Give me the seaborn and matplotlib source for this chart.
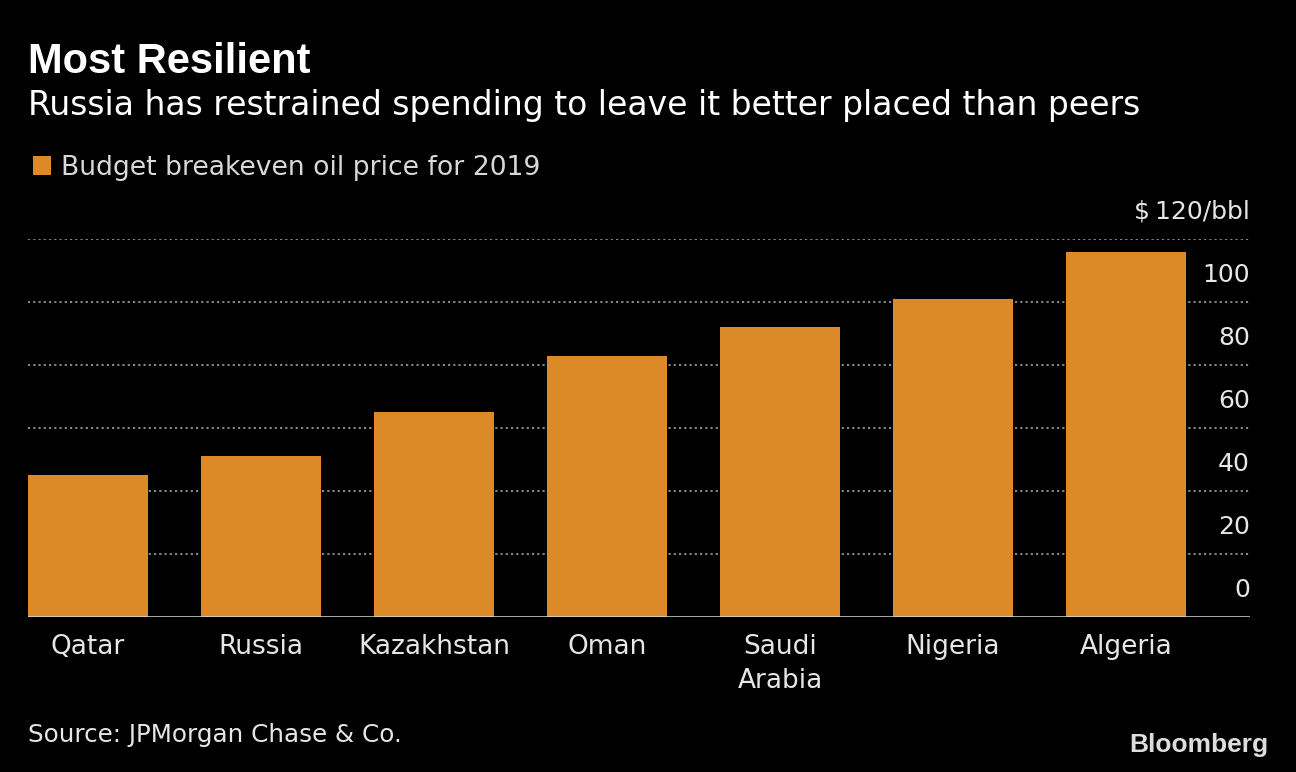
import matplotlib
matplotlib.use("Agg")
import matplotlib.pyplot as plt
import matplotlib.transforms as mtransforms
from matplotlib.patches import Patch
import seaborn as sns
import pandas as pd

# Data
countries = ['Qatar', 'Russia', 'Kazakhstan', 'Oman', 'Saudi\nArabia', 'Nigeria', 'Algeria']
breakeven = [45, 51, 65, 83, 92, 101, 116]
y_ticks = [0, 20, 40, 60, 80, 100, 120]
y_tick_labels = ['0', '20', '40', '60', '80', '100', '$\u2009120/bbl']

BG = '#000000'
BAR = '#DB8A27'
TXT = '#E6E6E6'
GRID = '#8a8a8a'
FONT = ['DejaVu Sans']

sns.set_style('dark', {'axes.facecolor': BG, 'figure.facecolor': BG})
plt.rcParams['font.family'] = FONT

W, H = 1296, 772
fig = plt.figure(figsize=(W / 100, H / 100), dpi=100, facecolor=BG)
ax = fig.add_axes([28 / W, 155 / H, (1250 - 28) / W, (617 - 239) / H])
ax.set_facecolor(BG)

df = pd.DataFrame({'country': countries, 'value': breakeven})
sns.barplot(data=df, x='country', y='value', order=countries, color=BAR,
            width=0.69, saturation=1, ax=ax, zorder=3, edgecolor='none', linewidth=0)

ax.set_xlim(-0.347, 6.717)
ax.set_ylim(0, 120)

# dotted gridlines + solid baseline
for v in y_ticks[1:]:
    ax.axhline(v, color=GRID, lw=1.4, ls=(0, (1.1, 1.6)), zorder=1)
ax.axhline(0, color='#dddddd', lw=1.8, zorder=4)

for s in ax.spines.values():
    s.set_visible(False)
ax.set_xlabel('')
ax.set_ylabel('')
ax.set_yticks([])
ax.tick_params(axis='x', length=0, pad=12, labelsize=19, labelcolor=TXT)
for lab in ax.get_xticklabels():
    lab.set_linespacing(1.4)
ax.grid(False)

# y labels sit above their gridlines, right aligned
trans = mtransforms.blended_transform_factory(ax.transAxes, ax.transData)
trans = mtransforms.offset_copy(trans, fig=fig, x=0, y=27, units='dots')
for v, lab in zip(y_ticks, y_tick_labels):
    ax.text(1.0, v, lab, transform=trans, ha='right', va='center',
            fontsize=18, color=TXT)

# titles
fig.text(28 / W, 1 - 62 / H, 'Most Resilient', fontsize=30, fontweight='bold',
         color='white', va='center', ha='left', family=['Liberation Sans', 'DejaVu Sans'])
fig.text(28 / W, 1 - 105 / H, 'Russia has restrained spending to leave it better placed than peers',
         fontsize=23.8, color='white', va='center', ha='left')

# legend
handle = Patch(facecolor=BAR, edgecolor='none')
fig.legend(handles=[handle], labels=['Budget breakeven oil price for 2019'],
           loc='center left', bbox_to_anchor=(22 / W, 1 - 168 / H), frameon=False,
           fontsize=19.2, labelcolor='#d8d8d8', handlelength=0.7, handleheight=0.7,
           handletextpad=0.35, borderaxespad=0)

# footer
fig.text(28 / W, 1 - 735 / H, 'Source: JPMorgan Chase & Co.', fontsize=17.7,
         color=TXT, va='center', ha='left')
fig.text(1268 / W, 1 - 745 / H, 'Bloomberg', fontsize=19, fontweight='bold',
         color='#dddddd', va='center', ha='right', family=['Liberation Sans', 'DejaVu Sans'])

fig.savefig('out.png', dpi=100, facecolor=BG)
